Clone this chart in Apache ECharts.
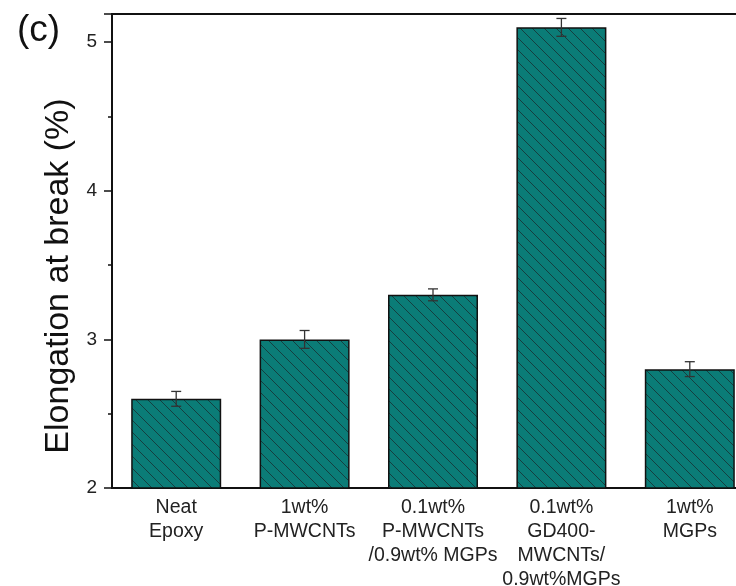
<!DOCTYPE html>
<html>
<head>
<meta charset="utf-8">
<style>
  html, body { margin: 0; padding: 0; background: #fff; overflow: hidden; width: 736px; height: 586px; }
  #chart { width: 755px; height: 586px; }
</style>
<script src="https://cdn.jsdelivr.net/npm/echarts@6/dist/echarts.min.js"></script>
</head>
<body>
<div id="chart"></div>
<script>
// Sample groups (multi-line labels) and measured elongation at break (%)
const categories = [
  'Neat\nEpoxy',
  '1wt%\nP-MWCNTs',
  '0.1wt%\nP-MWCNTs\n/0.9wt% MGPs',
  '0.1wt%\nGD400-\nMWCNTs/\n0.9wt%MGPs',
  '1wt%\nMGPs'
];
const elongation = [2.6, 3.0, 3.3, 5.1, 2.8];
const errors = [0.05, 0.06, 0.04, 0.06, 0.05];
const yTicks = [2, 3, 4, 5];

const FONT = '"Liberation Sans", Arial, sans-serif';

// Teal fill with dark diagonal hatching
function hatchPattern() {
  const s = 12;
  const c = document.createElement('canvas');
  c.width = s; c.height = s;
  const g = c.getContext('2d');
  g.fillStyle = '#0b7c77';
  g.fillRect(0, 0, s, s);
  g.strokeStyle = '#153f40';
  g.lineWidth = 1;
  g.beginPath();
  g.moveTo(-2, -2); g.lineTo(s + 2, s + 2);
  g.moveTo(-2 - s, -2); g.lineTo(2, s + 2);
  g.moveTo(s - 2, -2); g.lineTo(2 * s + 2, s + 2);
  g.stroke();
  return c;
}

const chart = echarts.init(document.getElementById('chart'));
const errData = elongation.map((v, i) => [i, v - errors[i], v + errors[i]]);

chart.setOption({
  animation: false,
  backgroundColor: '#fff',
  grid: {
    left: 112, top: 14, right: 1, bottom: 98,
    outerBoundsMode: 'none',
    show: true, borderColor: '#111', borderWidth: 2, backgroundColor: 'transparent'
  },
  graphic: [
    {
      type: 'text', left: 17, top: 12,
      style: { text: '(c)', font: '37px ' + FONT, fill: '#111' }
    },
    {
      type: 'text', x: 59, y: 276, rotation: Math.PI / 2,
      style: {
        text: 'Elongation at break (%)',
        font: '34px ' + FONT,
        fill: '#111', align: 'center', verticalAlign: 'middle'
      }
    }
  ],
  xAxis: {
    type: 'category',
    data: categories,
    axisLine: { lineStyle: { color: '#111', width: 2 } },
    axisTick: { show: false },
    axisLabel: {
      interval: 0, margin: 8, color: '#222', fontSize: 19.5, lineHeight: 24,
      fontFamily: FONT
    },
    splitLine: { show: false }
  },
  yAxis: {
    type: 'value',
    min: 2, max: 5.19, interval: 1,
    axisLine: { show: true, lineStyle: { color: '#111', width: 2 } },
    axisTick: { show: true, length: 8, lineStyle: { color: '#111', width: 1.5 } },
    minorTick: { show: true, splitNumber: 2, length: 4, lineStyle: { color: '#111', width: 1.5 } },
    axisLabel: {
      margin: 15, color: '#222', fontSize: 19,
      fontFamily: FONT,
      formatter: v => (yTicks.includes(v) ? String(v) : '')
    },
    splitLine: { show: false }
  },
  series: [
    {
      type: 'bar',
      data: elongation,
      barWidth: 90,
      itemStyle: {
        color: { image: hatchPattern(), repeat: 'repeat' },
        borderColor: '#111', borderWidth: 1.5
      }
    },
    {
      type: 'custom',
      data: errData,
      z: 5,
      renderItem: (params, api) => {
        const lo = api.coord([api.value(0), api.value(1)]);
        const hi = api.coord([api.value(0), api.value(2)]);
        const x = lo[0], w = 5;
        const st = { stroke: '#333', lineWidth: 1.3 };
        return {
          type: 'group',
          children: [
            { type: 'line', shape: { x1: x, y1: lo[1], x2: x, y2: hi[1] }, style: st },
            { type: 'line', shape: { x1: x - w, y1: lo[1], x2: x + w, y2: lo[1] }, style: st },
            { type: 'line', shape: { x1: x - w, y1: hi[1], x2: x + w, y2: hi[1] }, style: st }
          ]
        };
      }
    }
  ]
});
</script>
</body>
</html>
